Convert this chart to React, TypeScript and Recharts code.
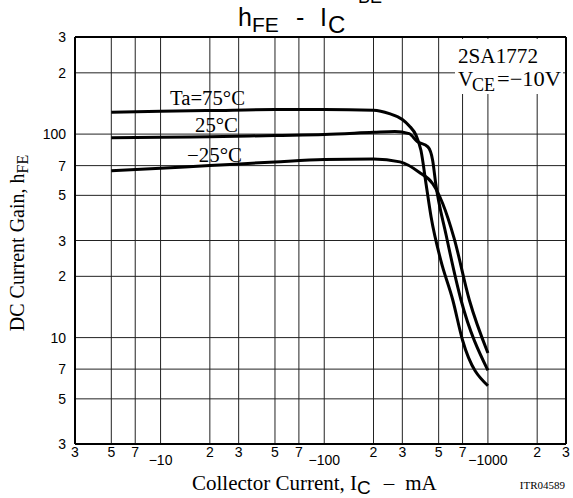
import React from 'react';
import { LineChart, Line, XAxis, YAxis, CartesianGrid, ReferenceLine } from 'recharts';

// collector current (mA, shown negative on the axis) vs DC current gain
const xTicks = [3, 5, 7, 10, 20, 30, 50, 70, 100, 200, 300, 500, 700, 1000, 2000, 3000];
const xTickLabels = ['3', '5', '7', '−10', '2', '3', '5', '7', '−100', '2', '3', '5', '7', '−1000', '2', '3'];
const yTicks = [3, 5, 7, 10, 20, 30, 50, 70, 100, 200, 300];
const yTickLabels = ['3', '5', '7', '10', '2', '3', '5', '7', '100', '2', '3'];

const current75 = [5, 10, 20, 50, 100, 200, 250, 300, 330, 365, 390, 420, 450, 515, 610, 700, 1000];
const gain75 = [128, 129.5, 130.5, 132, 132, 131, 126, 118, 110, 98, 83, 56, 39, 24, 15.3, 9.7, 5.8];

const current25 = [5, 10, 20, 50, 100, 200, 270, 330, 370, 430, 460, 480, 555, 685, 1000];
const gain25 = [96, 96.5, 97, 98.5, 99.5, 102, 103, 100.5, 92, 86.5, 74, 57, 32, 15.3, 6.9];

const currentM25 = [5, 10, 20, 50, 100, 200, 290, 380, 460, 530, 620, 770, 1000];
const gainM25 = [66, 68, 70, 73, 75, 75.5, 73, 65, 57, 45.5, 31, 15.3, 8.4];

const toPoints = (xs: number[], ys: number[]) => xs.map((I, i) => ({ I, h: ys[i] }));

const serif = '"Liberation Serif", "Times New Roman", serif';
const sans = '"Liberation Sans", Arial, sans-serif';

const XTick = (props: any) => {
  const { x, y, payload } = props;
  const i = xTicks.indexOf(payload.value);
  const label = xTickLabels[i] ?? '';
  const decade = label.startsWith('−');
  return (
    <text x={x} y={y + (decade ? 21 : 13)} textAnchor="middle" fontFamily={sans} fontSize={14} fill="#000">
      {label}
    </text>
  );
};

const YTick = (props: any) => {
  const { x, y, payload } = props;
  const i = yTicks.indexOf(payload.value);
  return (
    <text x={x - 9} y={y + 5} textAnchor="end" fontFamily={sans} fontSize={14} fill="#000">
      {yTickLabels[i] ?? ''}
    </text>
  );
};

export default function App() {
  return (
    <div style={{ position: 'absolute', left: 0, top: 0, width: 573, height: 498, background: '#fff' }}>
      <LineChart width={573} height={498} margin={{ top: 37, right: 7, left: 15, bottom: 24 }}>
        <CartesianGrid stroke="#222" strokeWidth={1} />
        <XAxis
          dataKey="I"
          type="number"
          scale="log"
          domain={[3, 3000]}
          ticks={xTicks}
          interval={0}
          allowDataOverflow
          height={30}
          tickSize={0}
          tickMargin={0}
          tick={<XTick />}
          axisLine={{ stroke: '#000', strokeWidth: 2 }}
        />
        <YAxis
          dataKey="h"
          type="number"
          scale="log"
          domain={[3, 300]}
          ticks={yTicks}
          interval={0}
          allowDataOverflow
          width={60}
          tickSize={0}
          tickMargin={0}
          tick={<YTick />}
          axisLine={{ stroke: '#000', strokeWidth: 2 }}
        />
        <ReferenceLine y={300} stroke="#000" strokeWidth={2} />
        <ReferenceLine x={3000} stroke="#000" strokeWidth={2} />
        <Line data={toPoints(current75, gain75)} dataKey="h" type="monotone" stroke="#000" strokeWidth={3} dot={false} isAnimationActive={false} />
        <Line data={toPoints(current25, gain25)} dataKey="h" type="monotone" stroke="#000" strokeWidth={3} dot={false} isAnimationActive={false} />
        <Line data={toPoints(currentM25, gainM25)} dataKey="h" type="monotone" stroke="#000" strokeWidth={3} dot={false} isAnimationActive={false} />
      </LineChart>

      <svg width={573} height={498} style={{ position: 'absolute', left: 0, top: 0, pointerEvents: 'none' }}>
        {/* title, with the cut-off remainder of the previous one above it */}
        <text x={358} y={3} fontFamily={sans} fontSize={18} fill="#000">BE</text>
        <text x={238} y={26} fontFamily={sans} fontSize={25} fill="#000">h</text>
        <text x={252} y={32} fontFamily={sans} fontSize={21} fill="#000">FE</text>
        <text x={296} y={26} fontFamily={sans} fontSize={25} fill="#000">-</text>
        <text x={320} y={26} fontFamily={sans} fontSize={25} fill="#000">I</text>
        <text x={328} y={33} fontFamily={sans} fontSize={24} fill="#000">C</text>

        <rect x={455} y={39} width={108} height={55} fill="#fff" />
        <text x={458} y={63} fontFamily={serif} fontSize={21} textLength={80} lengthAdjust="spacingAndGlyphs" fill="#000">2SA1772</text>
        <text x={458} y={86} fontFamily={serif} fontSize={21} fill="#000">V</text>
        <text x={472} y={91} fontFamily={serif} fontSize={18} fill="#000">CE</text>
        <text x={497} y={86} fontFamily={serif} fontSize={21} textLength={64} lengthAdjust="spacingAndGlyphs" fill="#000">=−10V</text>

        <text x={170} y={105} fontFamily={serif} fontSize={20} textLength={75} lengthAdjust="spacingAndGlyphs" fill="#000">Ta=75°C</text>
        <text x={195} y={132} fontFamily={serif} fontSize={20} textLength={43} lengthAdjust="spacingAndGlyphs" fill="#000">25°C</text>
        <text x={187} y={162} fontFamily={serif} fontSize={20} textLength={55} lengthAdjust="spacingAndGlyphs" fill="#000">−25°C</text>

        <text transform="translate(24,243) rotate(-90)" textAnchor="middle" fontFamily={serif} fontSize={20} fill="#000">
          DC Current Gain, h<tspan fontSize={16} dy={4}>FE</tspan>
        </text>

        <text x={192} y={490} fontFamily={serif} fontSize={21} fill="#000">
          Collector Current, I<tspan fontFamily={sans} fontSize={19} dy={4}>C</tspan>
          <tspan dx={13} dy={-4}>–</tspan>
          <tspan dx={11}>mA</tspan>
        </text>
        <text x={565} y={489} textAnchor="end" fontFamily={serif} fontSize={11} fill="#000">ITR04589</text>
      </svg>
    </div>
  );
}
